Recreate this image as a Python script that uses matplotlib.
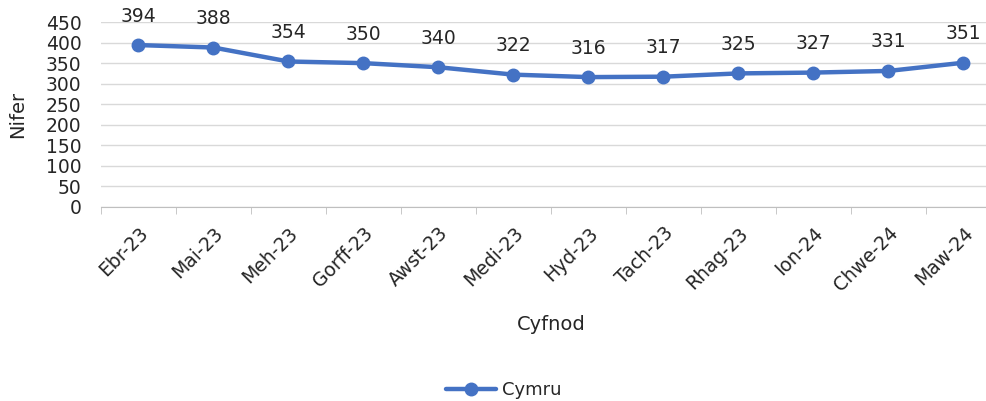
import numpy as np
import matplotlib.pyplot as plt

months = ["Ebr-23", "Mai-23", "Meh-23", "Gorff-23", "Awst-23", "Medi-23",
          "Hyd-23", "Tach-23", "Rhag-23", "Ion-24", "Chwe-24", "Maw-24"]
cymru = [394, 388, 354, 350, 340, 322, 316, 317, 325, 327, 331, 351]

blue = "#4472C4"
txt = "#262626"

fig = plt.figure(figsize=(9.87, 4.01), dpi=100)
# axes runs a little past the right edge, as in the cropped original
ax = fig.add_axes([0.1023, 0.484, 0.9118, 0.461])

x = np.arange(len(months))
ax.plot(x, cymru, color=blue, linewidth=3.2, marker="o", markersize=9,
        label="Cymru", solid_capstyle="round")
for xi, v in zip(x, cymru):
    ax.annotate(str(v), (xi, v), xytext=(0, 14), textcoords="offset points",
                ha="center", va="bottom", fontsize=13.5, color=txt)

ax.set_xlim(-0.5, len(months) - 0.5)
ax.set_ylim(0, 450)
ax.set_yticks(np.arange(0, 451, 50))
ax.set_xticks(x)
ax.set_xticklabels(months, rotation=45, ha="right", rotation_mode="anchor",
                   fontsize=13.5, color=txt)
ax.set_xticks(np.arange(-0.5, len(months), 1), minor=True)
ax.tick_params(axis="x", which="major", length=0, pad=12)
ax.tick_params(axis="x", which="minor", length=5, color="#BFBFBF")
ax.tick_params(axis="y", length=0, labelsize=13.5, labelcolor=txt, pad=14)
ax.yaxis.grid(True, color="#D9D9D9", linewidth=1)
ax.set_axisbelow(True)
for s in ["top", "right", "left"]:
    ax.spines[s].set_visible(False)
ax.spines["bottom"].set_color("#BFBFBF")

ax.set_ylabel("Nifer", fontsize=14, color=txt)
ax.yaxis.set_label_coords(-0.082, 0.5)
ax.set_xlabel("Cyfnod", fontsize=14, color=txt, labelpad=14)

fig.legend(loc="center", bbox_to_anchor=(0.51, 0.027), frameon=False,
           fontsize=13, handlelength=2.8, handletextpad=0.3, labelcolor=txt)

fig.savefig("out.png", dpi=100)
